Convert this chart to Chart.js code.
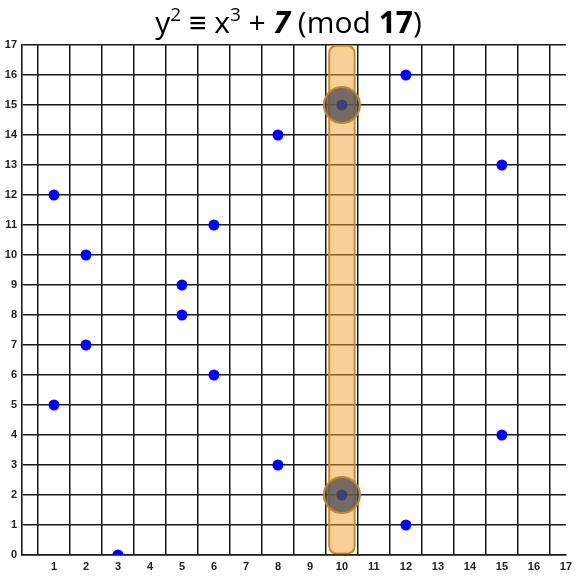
<!DOCTYPE html>
<html>
<head>
<meta charset="utf-8">
<script src="https://cdn.jsdelivr.net/npm/chart.js@4"></script>
<style>
  html, body { margin: 0; padding: 0; background: #fff; }
  #wrap { position: relative; width: 577px; height: 577px; }
  #title {
    position: absolute; left: 0; right: 0; top: 1px;
    text-align: center; font-family: 'Open Sans', sans-serif;
    font-size: 30px; line-height: 42px; color: #000;
  }
  #title sup { font-size: 19px; line-height: 0; vertical-align: 12px; }
</style>
</head>
<body>
<div id="wrap">
  <canvas id="curveChart" width="577" height="577"></canvas>
  <div id="title">y<sup>2</sup> <b>≡</b> x<sup>3</sup> + <b><i>7</i></b> (mod <b>17</b>)</div>
</div>
<script>
// 曲線上の点 (x, y)
const pointX = [1, 1, 2, 2, 3, 5, 5, 6, 6, 8, 8, 10, 10, 12, 12, 15, 15];
const pointY = [5, 12, 7, 10, 0, 8, 9, 6, 11, 3, 14, 2, 15, 1, 16, 4, 13];

// 強調する縦の帯と円
const bandX = 10;
const bandRange = [0, 17];
const markX = [10, 10];
const markY = [15, 2];

const axisMin = 0;
const axisMax = 17;

const ctx = document.getElementById('curveChart').getContext('2d');
new Chart(ctx, {
  type: 'bar',
  data: {
    datasets: [
      {
        type: 'bar',
        data: [{ x: bandX, y: bandRange }],
        backgroundColor: 'rgba(240,160,50,0.5)',
        borderColor: '#c8862a',
        borderWidth: 1.5,
        borderRadius: 8,
        borderSkipped: false,
        barThickness: 27,
        order: 3,
      },
      {
        type: 'scatter',
        data: pointX.map((x, i) => ({ x, y: pointY[i] })),
        backgroundColor: '#0000ff',
        borderColor: '#0000ff',
        pointRadius: 5.5,
        borderWidth: 0,
        order: 2,
      },
      {
        type: 'scatter',
        data: markX.map((x, i) => ({ x, y: markY[i] })),
        backgroundColor: 'rgba(80,80,85,0.78)',
        borderColor: '#c8862a',
        pointRadius: 18,
        borderWidth: 2,
        order: 1,
      }
    ]
  },
  options: {
    responsive: false,
    animation: false,
    layout: { autoPadding: false, padding: { top: 45, right: 9, left: 0, bottom: 0 } },
    plugins: { legend: { display: false }, tooltip: { enabled: false }, title: { display: false } },
    scales: {
      x: {
        type: 'linear', offset: false, min: axisMin, max: axisMax,
        grid: { color: '#1a1a1a', lineWidth: 1.5, drawTicks: false },
        border: { color: '#1a1a1a', width: 1.6 },
        ticks: {
          stepSize: 1, padding: 5, color: '#222',
          font: { family: 'Liberation Sans', weight: 'bold', size: 11 },
          callback: v => v === 0 ? '' : v
        },
        afterFit: s => { s.height = 22; }
      },
      y: {
        min: axisMin, max: axisMax,
        grid: { color: '#1a1a1a', lineWidth: 1.5, drawTicks: false },
        border: { color: '#1a1a1a', width: 1.6 },
        ticks: {
          stepSize: 1, padding: 5, color: '#222',
          font: { family: 'Liberation Sans', weight: 'bold', size: 11 }
        },
        afterFit: s => { s.width = 22; }
      }
    }
  }
});
</script>
</body>
</html>
